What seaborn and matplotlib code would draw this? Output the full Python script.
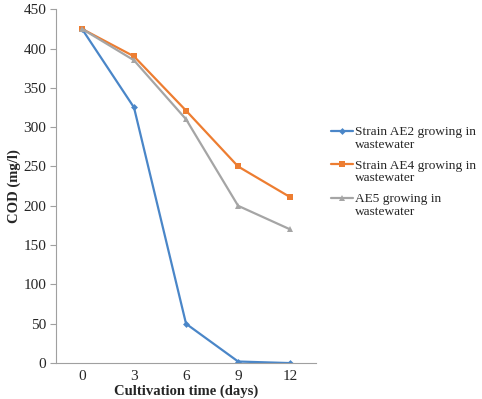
import pandas as pd
import matplotlib
matplotlib.use("Agg")
import matplotlib.pyplot as plt
from matplotlib.legend_handler import HandlerLine2D
import seaborn as sns

days = ["0", "3", "6", "9", "12"]
ae2 = [425, 325, 50, 2, 0]
ae4 = [425, 390, 321, 250, 211]
ae5 = [425, 385, 310, 200, 170]
labels = ["Strain AE2 growing in\nwastewater",
          "Strain AE4 growing in\nwastewater",
          "AE5 growing in\nwastewater"]


# excel puts the legend key next to the first text line, not the middle
class TopLine(HandlerLine2D):
    def create_artists(self, legend, orig_handle, xdescent, ydescent,
                       width, height, fontsize, trans):
        arts = super().create_artists(legend, orig_handle, xdescent, ydescent,
                                      width, height, fontsize, trans)
        for a in arts:
            a.set_ydata([y + 0.55 * fontsize for y in a.get_ydata()])
        return arts


sns.set_style("white")
plt.rcParams["font.family"] = ["Liberation Serif", "DejaVu Serif"]

fig = plt.figure(figsize=(4.82, 3.99), dpi=100)
ax = fig.add_axes([0.116, 0.090, 0.540, 0.887])

pos = list(range(len(days)))
series = [
    (ae2, "#4a86c8", "D", 3.5),
    (ae4, "#ed7d31", "s", 5),
    (ae5, "#a5a5a5", "^", 5),
]
for (vals, col, mk, ms), lab in zip(series, labels):
    sns.lineplot(x=pos, y=vals, ax=ax, color=col, marker=mk, markersize=ms,
                 markeredgewidth=0, linewidth=1.6, label=lab)

ax.set_xlim(-0.5, len(days) - 0.5)
ax.set_ylim(0, 450)
ax.set_yticks(range(0, 451, 50))
ax.set_xticks(pos)
ax.set_xticklabels(days)
ax.set_xticks([p - 0.5 for p in range(len(days) + 1)], minor=True)
ax.tick_params(axis="x", which="major", length=0, labelsize=11, pad=5)
ax.tick_params(axis="x", which="minor", length=4, color="#a0a0a0", direction="out")
ax.tick_params(axis="y", length=4, color="#a0a0a0", direction="out", labelsize=11, left=True, pad=3)

for s in ["top", "right"]:
    ax.spines[s].set_visible(False)
for s in ["left", "bottom"]:
    ax.spines[s].set_color("#a0a0a0")
    ax.spines[s].set_linewidth(0.8)

ax.set_xlabel("Cultivation time (days)", fontsize=10.5, fontweight="bold", labelpad=1)
ax.set_ylabel("COD (mg/l)", fontsize=10.5, fontweight="bold", labelpad=2)

handles, labs = ax.get_legend_handles_labels()
leg = ax.legend(handles, labs, loc="upper left", bbox_to_anchor=(0.676, 0.697),
                bbox_transform=fig.transFigure, frameon=False, fontsize=9.6,
                handlelength=1.65, handletextpad=0.12, labelspacing=0.68,
                borderaxespad=0,
                handler_map={h: TopLine() for h in handles})
for t in leg.get_texts():
    t.set_linespacing(1.05)

fig.savefig("out.png", dpi=100)
